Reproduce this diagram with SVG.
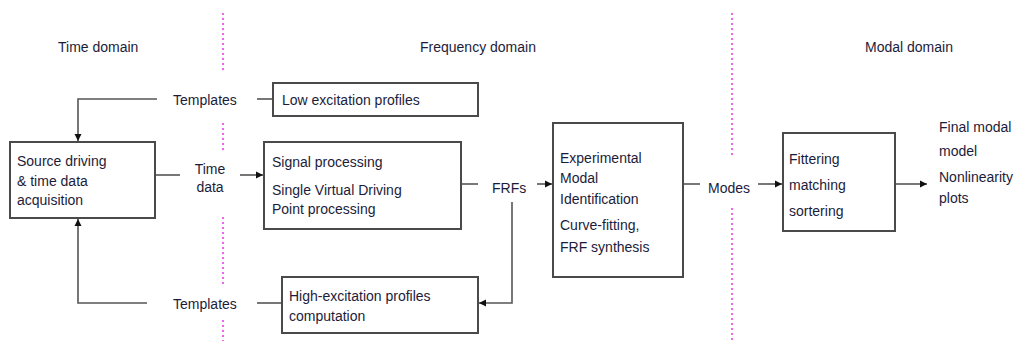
<svg xmlns="http://www.w3.org/2000/svg" width="1015" height="341" viewBox="0 0 1015 341">
<style>
text{font-family:"Liberation Sans",Arial,sans-serif;font-size:14px;fill:#1c1c3a}
.box{fill:#fff;stroke:#4a4a4a;stroke-width:2}
.ln{fill:none;stroke:#555;stroke-width:1.6}
.dv{fill:none;stroke:#ee66ee;stroke-width:2;stroke-dasharray:2 3}
</style>
<defs>
<marker id="ah" markerWidth="8" markerHeight="8" refX="7" refY="4" orient="auto" markerUnits="userSpaceOnUse">
<path d="M0,0.5 L7,4 L0,7.5 Z" fill="#111"/>
</marker>
</defs>
<rect width="1015" height="341" fill="#fff"/>
<g id="dividers">
<path class="dv" d="M223,13V72M223,123V150M223,217V285M223,320V341"/>
<path class="dv" d="M732,13V158M732,208V341"/>
</g>
<g id="headers">
<text x="58" y="52">Time domain</text>
<text x="420" y="52">Frequency domain</text>
<text x="865" y="52">Modal domain</text>
</g>
<g id="connectors">
<path class="ln" d="M157,99H78V141" marker-end="url(#ah)"/>
<path class="ln" d="M257,99H273"/>
<path class="ln" d="M155,175H180"/>
<path class="ln" d="M240,175H263" marker-end="url(#ah)"/>
<path class="ln" d="M461,184H478"/>
<path class="ln" d="M537,184H552" marker-end="url(#ah)"/>
<path class="ln" d="M512,202V303H479" marker-end="url(#ah)"/>
<path class="ln" d="M147,303H78V219" marker-end="url(#ah)"/>
<path class="ln" d="M257,303H282"/>
<path class="ln" d="M683,184H700"/>
<path class="ln" d="M758,184H782" marker-end="url(#ah)"/>
<path class="ln" d="M895,184H927" marker-end="url(#ah)"/>
</g>
<g id="source">
<rect class="box" x="10" y="142" width="145" height="76"/>
<text x="17" y="166">Source driving</text>
<text x="17" y="186">&amp; time data</text>
<text x="17" y="205">acquisition</text>
</g>
<g id="templates-top"><text x="173" y="105">Templates</text></g>
<g id="templates-bottom"><text x="173" y="309">Templates</text></g>
<g id="timedata">
<text x="210" y="174" text-anchor="middle">Time</text>
<text x="210" y="192" text-anchor="middle">data</text>
</g>
<g id="lowexc">
<rect class="box" x="273" y="83" width="205" height="33"/>
<text x="282" y="105">Low excitation profiles</text>
</g>
<g id="signal">
<rect class="box" x="264" y="142" width="197" height="87"/>
<text x="272" y="167">Signal processing</text>
<text x="272" y="195">Single Virtual Driving</text>
<text x="272" y="214">Point processing</text>
</g>
<g id="frfs"><text x="492" y="193">FRFs</text></g>
<g id="highexc">
<rect class="box" x="282" y="277" width="196" height="56"/>
<text x="289" y="301">High-excitation profiles</text>
<text x="289" y="321">computation</text>
</g>
<g id="emi">
<rect class="box" x="553" y="123" width="130" height="154"/>
<text x="560" y="163">Experimental</text>
<text x="560" y="183">Modal</text>
<text x="560" y="204">Identification</text>
<text x="560" y="230">Curve-fitting,</text>
<text x="560" y="252">FRF synthesis</text>
</g>
<g id="modes"><text x="708" y="193">Modes</text></g>
<g id="filter">
<rect class="box" x="783" y="133" width="112" height="98"/>
<text x="789" y="164">Fittering</text>
<text x="789" y="190">matching</text>
<text x="789" y="216">sortering</text>
</g>
<g id="final">
<text x="939" y="132">Final modal</text>
<text x="939" y="156">model</text>
<text x="939" y="182">Nonlinearity</text>
<text x="939" y="203">plots</text>
</g>
</svg>
